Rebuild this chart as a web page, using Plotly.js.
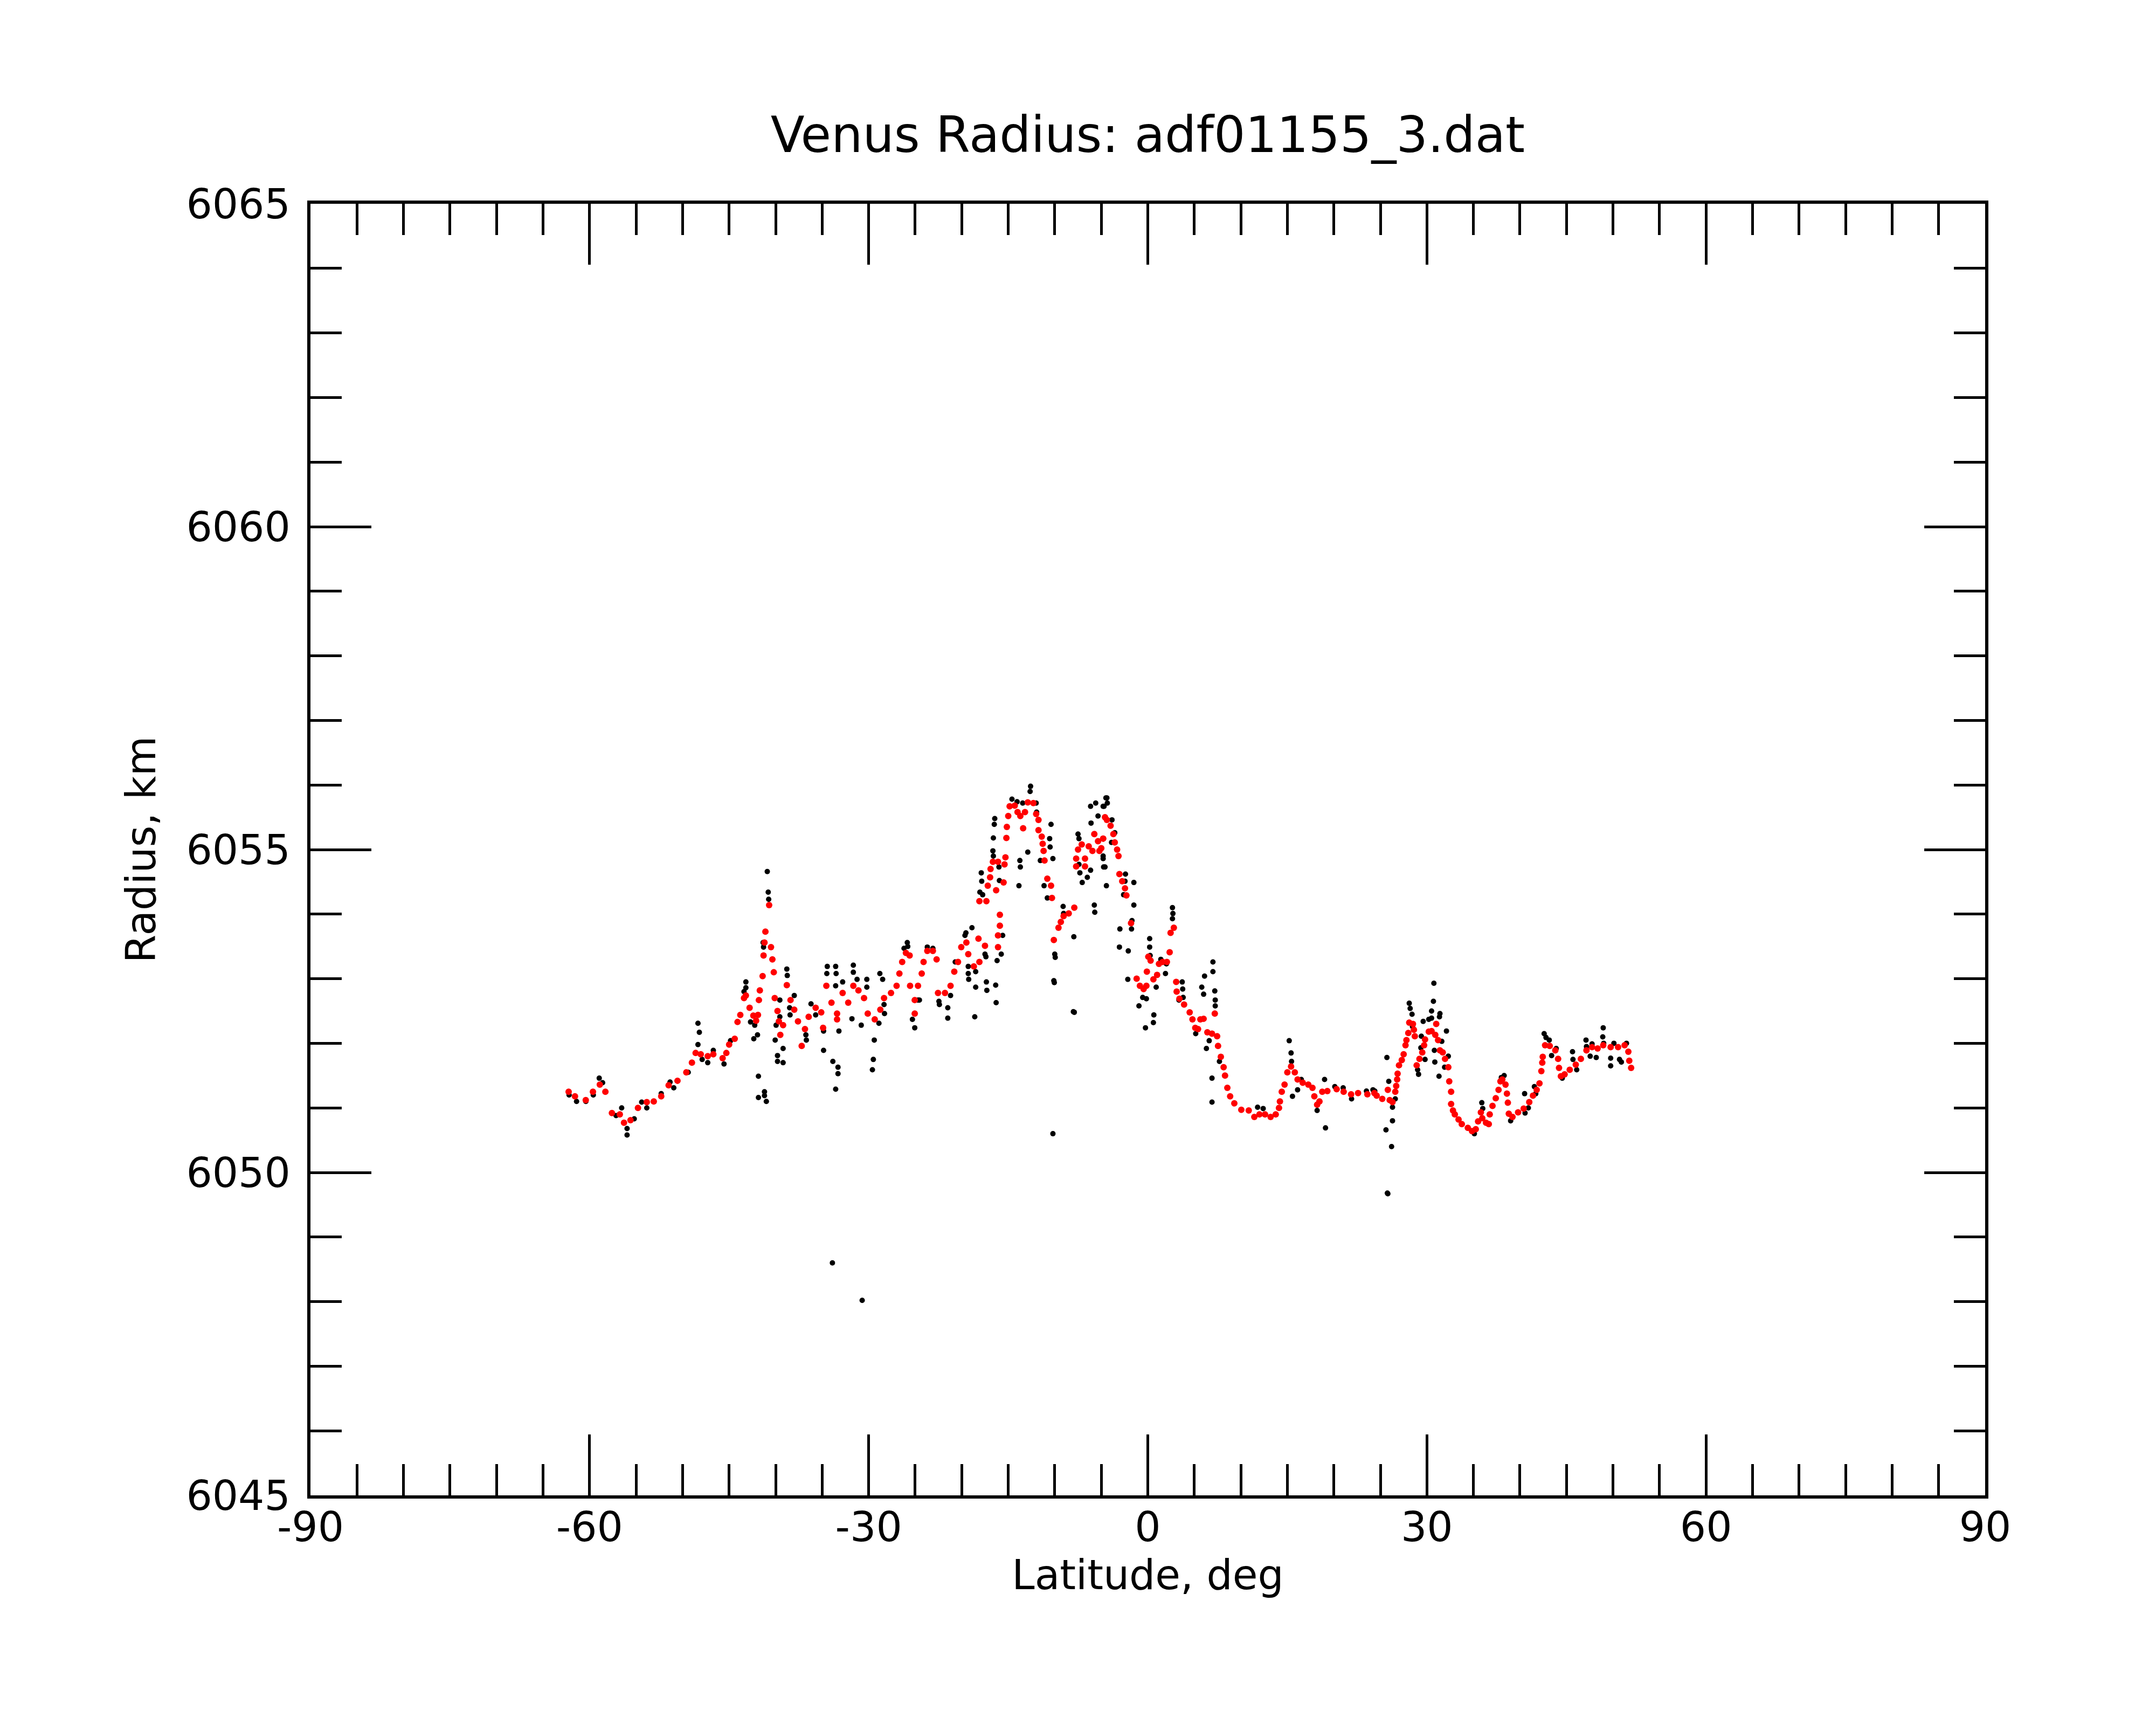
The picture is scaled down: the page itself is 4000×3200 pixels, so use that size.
<!DOCTYPE html>
<html>
<head>
<meta charset="utf-8">
<script src="https://cdn.plot.ly/plotly-3.0.1.min.js"></script>
<style>
  html, body { margin: 0; padding: 0; background: #fff; }
  #chart { width: 4000px; height: 3200px; }
</style>
</head>
<body>
<div id="chart"></div>
<script>
// Smoothed radius profile (red), latitude in deg, radius in km
const smoothLat = [
  -62.25, -61.57, -60.41, -59.64, -58.9, -58.3, -57.6, -56.75, -56.3, -55.6,
  -54.8, -53.85, -53.1, -52.3, -51.5, -50.55, -49.6, -49.0, -48.6, -48.05,
  -47.3, -46.7, -45.7, -45.3, -45.0, -44.4, -44.1, -43.8, -43.4, -43.2,
  -42.8, -42.4, -42.1, -41.9, -41.8, -41.7, -41.4, -41.3, -41.2, -41.1,
  -40.7, -40.5, -40.35, -40.2, -40.1, -39.8, -39.65, -39.5, -39.2, -38.8,
  -38.4, -38.0, -37.6, -37.2, -36.85, -36.45, -35.7, -35.1, -34.9, -34.55,
  -34.0, -33.4, -33.4, -32.8, -32.2, -31.65, -31.1, -30.5, -30.1, -29.35,
  -28.75, -28.35, -27.6, -27.0, -26.7, -26.4, -26.0, -25.6, -25.55, -25.05,
  -25.05, -24.7, -24.3, -24.1, -23.7, -23.1, -22.7, -22.55, -21.8, -21.2,
  -20.8, -20.4, -20.05, -19.5, -19.3, -18.7, -18.2, -18.1, -17.5, -18.1,
  -17.35, -17.2, -16.95, -16.9, -16.65, -16.1, -16.3, -15.9, -15.9, -16.1,
  -16.1, -15.5, -15.4, -15.3, -15.2, -15.15, -15.0, -14.85, -14.3, -14.0,
  -13.7, -13.4, -13.2, -12.9, -12.3, -12.0, -11.75, -11.75, -11.4, -11.3,
  -11.2, -11.1, -10.8, -10.4, -10.3, -10.1, -9.6, -9.35, -9.05, -8.5,
  -7.9, -7.7, -7.7, -7.5, -7.1, -6.75, -6.75, -6.35, -5.75, -5.95,
  -5.35, -5.2, -4.8, -4.6, -4.4, -4.0, -4.8, -5.0, -3.7, -3.55,
  -3.3, -3.15, -3.05, -2.75, -2.45, -2.3, -1.8, -1.2, -0.85, -0.45,
  -0.15, -0.1, 0.05, 0.3, 0.6, 1.0, 1.2, 1.6, 2.05, 2.35,
  2.45, 2.8, 3.05, 3.1, 3.4, 3.9, 4.5, 4.8, 5.1, 5.4,
  5.65, 6.0, 6.4, 6.9, 7.2, 7.45, 7.55, 7.85, 8.15, 8.3,
  8.55, 8.85, 9.3, 10.05, 10.85, 11.45, 12.0, 12.6, 13.2, 13.75,
  14.1, 14.2, 14.4, 14.7, 15.0, 15.4, 15.8, 16.1, 16.65, 17.25,
  17.7, 17.9, 18.2, 18.45, 18.75, 19.3, 20.3, 21.05, 21.85, 22.6,
  23.6, 24.35, 24.6, 25.2, 25.8, 26.0, 26.3, 26.6, 26.7, 26.8,
  26.85, 27.0, 27.3, 27.5, 27.7, 27.8, 28.0, 28.1, 28.5, 28.6,
  28.7, 28.9, 29.2, 29.5, 29.7, 29.8, 30.2, 30.5, 30.9, 31.0,
  31.2, 31.4, 31.7, 31.95, 32.3, 32.4, 32.6, 32.6, 32.8, 33.0,
  33.4, 33.75, 34.4, 34.85, 35.25, 35.5, 35.8, 35.95, 36.35, 36.65,
  36.75, 37.05, 37.4, 37.7, 37.9, 38.1, 38.45, 38.6, 38.7, 38.8,
  39.2, 39.8, 40.4, 41.0, 41.4, 41.8, 42.1, 42.3, 42.4, 42.45,
  42.7, 43.2, 43.8, 44.1, 44.2, 44.4, 44.8, 45.35, 46.0, 46.55,
  47.15, 47.75, 48.35, 48.95, 49.75, 50.55, 51.25, 51.65, 51.75, 51.95
];
const smoothRad = [
  6051.25, 6051.18, 6051.12, 6051.25, 6051.36, 6051.25, 6050.92, 6050.9, 6050.77, 6050.81,
  6051.0, 6051.09, 6051.1, 6051.18, 6051.35, 6051.42, 6051.55, 6051.7, 6051.85, 6051.83,
  6051.8, 6051.83, 6051.77, 6051.85, 6051.98, 6052.07, 6052.33, 6052.44, 6052.7, 6052.74,
  6052.55, 6052.43, 6052.35, 6052.44, 6052.67, 6052.82, 6053.04, 6053.36, 6053.56, 6053.73,
  6054.14, 6053.49, 6053.3, 6053.1, 6052.7, 6052.5, 6052.34, 6052.13, 6052.28, 6052.9,
  6052.67, 6052.52, 6052.34, 6051.96, 6052.22, 6052.41, 6052.55, 6052.48, 6052.24, 6052.89,
  6052.63, 6052.46, 6052.37, 6052.78, 6052.63, 6052.89, 6052.82, 6052.7, 6052.46, 6052.37,
  6052.52, 6052.7, 6052.78, 6052.89, 6053.08, 6053.26, 6053.4, 6053.36, 6052.89, 6052.67,
  6052.46, 6052.89, 6053.08, 6053.26, 6053.43, 6053.43, 6053.3, 6052.78, 6052.78, 6052.89,
  6053.11, 6053.26, 6053.49, 6053.56, 6053.38, 6053.19, 6053.62, 6053.26, 6053.51, 6054.2,
  6054.2, 6054.44, 6054.57, 6054.7, 6054.81, 6054.81, 6054.37, 6053.99, 6053.82, 6053.67,
  6053.49, 6054.49, 6054.77, 6054.88, 6055.18, 6055.35, 6055.52, 6055.67, 6055.68, 6055.58,
  6055.52, 6055.33, 6055.58, 6055.73, 6055.72, 6055.55, 6055.46, 6055.3, 6055.2, 6055.09,
  6054.98, 6054.83, 6054.55, 6054.44, 6054.25, 6053.6, 6053.79, 6053.88, 6053.97, 6054.01,
  6054.1, 6054.74, 6054.86, 6055.0, 6055.08, 6054.86, 6054.74, 6055.05, 6055.24, 6054.98,
  6055.13, 6054.98, 6055.17, 6055.5, 6055.46, 6055.37, 6055.17, 6055.02, 6055.24, 6055.11,
  6055.0, 6054.9, 6054.62, 6054.51, 6054.4, 6054.29, 6053.86, 6053.0, 6052.89, 6052.84,
  6052.89, 6053.11, 6053.34, 6053.28, 6052.99, 6053.06, 6053.23, 6053.26, 6053.26, 6053.41,
  6053.71, 6053.79, 6052.95, 6052.8, 6052.69, 6052.6, 6052.48, 6052.37, 6052.24, 6052.22,
  6052.37, 6052.38, 6052.17, 6052.15, 6052.46, 6052.11, 6051.96, 6051.79, 6051.63, 6051.5,
  6051.31, 6051.18, 6051.07, 6050.97, 6050.96, 6050.86, 6050.9, 6050.9, 6050.86, 6050.9,
  6051.0, 6051.1, 6051.25, 6051.36, 6051.55, 6051.64, 6051.55, 6051.44, 6051.39, 6051.36,
  6051.31, 6051.18, 6051.05, 6051.1, 6051.25, 6051.26, 6051.29, 6051.25, 6051.21, 6051.23,
  6051.21, 6051.23, 6051.19, 6051.14, 6051.28, 6051.12, 6051.09, 6051.25, 6051.34, 6051.44,
  6051.53, 6051.66, 6051.74, 6051.83, 6051.97, 6052.05, 6052.16, 6052.32, 6052.3, 6052.21,
  6052.11, 6051.66, 6051.76, 6051.86, 6051.97, 6052.06, 6052.18, 6052.19, 6052.13, 6052.3,
  6052.05, 6051.89, 6051.86, 6051.76, 6051.63, 6051.41, 6051.25, 6051.06, 6050.96, 6050.9,
  6050.82, 6050.75, 6050.69, 6050.64, 6050.67, 6050.79, 6050.93, 6050.84, 6050.77, 6050.75,
  6050.9, 6051.03, 6051.15, 6051.28, 6051.41, 6051.44, 6051.36, 6051.22, 6051.08, 6050.91,
  6050.86, 6050.93, 6050.99, 6051.09, 6051.19, 6051.28, 6051.38, 6051.57, 6051.7, 6051.79,
  6051.97, 6051.96, 6051.89, 6051.76, 6051.62, 6051.49, 6051.52, 6051.59, 6051.67, 6051.76,
  6051.89, 6051.94, 6051.92, 6051.97, 6051.94, 6051.94, 6051.97, 6051.87, 6051.73, 6051.62
];

// Raw radius samples (black), latitude in deg, radius in km
const rawLat = [
  -62.2, -61.4, -60.4, -59.6, -58.96, -58.6, -57.15, -56.55, -55.97, -55.97,
  -55.2, -54.4, -53.85, -52.3, -51.35, -50.95, -49.4, -48.35, -48.2, -48.35,
  -47.9, -47.3, -46.7, -45.55, -44.85, -43.2, -43.2, -43.4, -42.7, -42.25,
  -42.35, -41.95, -41.85, -41.85, -41.2, -41.2, -41.0, -40.9, -40.8, -40.75,
  -41.3, -41.35, -39.55, -39.55, -39.95, -40.05, -39.2, -39.8, -39.8, -39.2,
  -38.8, -38.75, -38.0, -38.5, -38.45, -36.75, -36.7, -36.2, -35.7, -34.85,
  -34.85, -34.45, -34.5, -33.55, -33.5, -33.85, -33.3, -33.3, -33.55, -33.2,
  -33.55, -32.8, -31.65, -31.65, -31.8, -31.25, -30.8, -30.2, -30.2, -30.5,
  -29.4, -29.5, -29.6, -28.8, -28.5, -28.35, -28.3, -28.9, -25.85, -25.8,
  -26.2, -25.3, -25.05, -24.7, -24.55, -23.7, -23.1, -22.45, -22.4, -21.5,
  -21.5, -21.2, -20.7, -19.65, -19.55, -18.9, -19.3, -19.25, -19.3, -18.6,
  -18.5, -18.5, -17.5, -17.4, -17.35, -17.3, -16.35, -16.3, -16.2, -15.75,
  -15.6, -17.9, -17.85, -18.05, -17.75, -16.65, -16.6, -16.6, -16.5, -16.45,
  -16.0, -15.95, -14.6, -14.05, -13.45, -12.6, -12.65, -12.0, -11.95, -12.9,
  -13.75, -13.7, -13.85, -10.4, -10.55, -10.5, -10.2, -11.55, -11.15, -10.8,
  -10.0, -9.95, -10.1, -10.05, -7.95, -7.9, -9.1, -9.05, -7.5, -7.4,
  -7.4, -7.3, -7.05, -6.5, -6.15, -5.75, -5.7, -6.15, -5.6, -6.1,
  -5.35, -4.8, -4.5, -4.8, -4.6, -4.45, -4.4, -4.35, -4.7, -3.85,
  -3.55, -3.9, -4.8, -4.75, -2.4, -2.45, -2.6, -1.5, -1.5, -1.7,
  -1.75, -3.0, -3.05, -2.1, -2.15, -0.95, -0.55, -0.15, -0.25, 0.6,
  0.65, 0.2, 0.2, 0.25, 0.9, 1.4, 1.9, 2.0, 2.65, 2.65,
  2.7, 3.35, 3.7, 3.75, 3.8, 5.15, 5.8, 6.1, 6.0, 7.0,
  7.0, 7.2, 7.25, 7.25, 6.6, 6.3, 7.7, 6.9, 6.9, 11.8,
  12.4, 15.2, 15.4, 15.45, 15.55, 16.1, 16.5, 19.0, 19.1, 18.2,
  20.1, 21.0, 21.9, 23.5, 24.4, 24.2, 25.7, 25.9, 26.3, 26.3,
  25.6, 26.2, 25.8, 26.6, 28.1, 28.2, 28.4, 28.45, 29.0, 29.1,
  29.6, 29.4, 29.35, 29.8, 30.2, 30.5, 30.5, 30.7, 30.75, 31.4,
  31.35, 31.6, 30.8, 30.85, 31.3, 31.9, 32.1, 32.3, 35.1, 35.9,
  36.0, 38.3, 38.0, 39.0, 40.5, 40.55, 40.9, 41.55, 41.7, 42.6,
  42.8, 43.15, 43.9, 43.4, 44.55, 45.65, 45.7, 46.1, 47.1, 47.15,
  47.55, 47.75, 48.2, 48.95, 48.9, 49.0, 49.75, 49.75, 50.1, 50.7,
  50.9, 51.45, -33.9, -30.7, -10.2, -8.0, 25.75
];
const rawRad = [
  6051.2, 6051.1, 6051.1, 6051.2, 6051.46, 6051.39, 6050.88, 6051.0, 6050.68, 6050.58,
  6050.83, 6051.09, 6051.0, 6051.22, 6051.4, 6051.31, 6051.55, 6052.31, 6052.17, 6051.98,
  6051.75, 6051.7, 6051.89, 6051.68, 6052.04, 6052.95, 6052.86, 6052.8, 6052.33, 6052.28,
  6052.07, 6052.13, 6051.49, 6051.16, 6051.25, 6051.19, 6051.1, 6054.66, 6054.34, 6054.23,
  6053.49, 6053.56, 6052.67, 6052.41, 6052.28, 6052.05, 6051.92, 6051.81, 6051.72, 6051.7,
  6053.15, 6053.05, 6052.74, 6052.55, 6052.44, 6052.13, 6052.05, 6052.61, 6052.44, 6052.19,
  6051.89, 6053.19, 6053.08, 6053.19, 6053.08, 6051.72, 6051.63, 6051.53, 6051.29, 6052.19,
  6052.89, 6052.95, 6053.21, 6053.1, 6052.38, 6052.99, 6052.28, 6052.99, 6052.87, 6052.7,
  6052.05, 6051.75, 6051.59, 6053.08, 6052.99, 6052.6, 6052.46, 6052.31, 6053.56, 6053.5,
  6053.47, 6052.37, 6052.24, 6052.67, 6052.67, 6053.49, 6053.47, 6052.65, 6052.6, 6052.55,
  6052.39, 6052.74, 6053.26, 6053.67, 6053.71, 6053.79, 6053.08, 6052.99, 6053.19, 6052.41,
  6052.87, 6053.11, 6053.38, 6053.34, 6052.95, 6052.82, 6052.9, 6052.63, 6053.28, 6053.38,
  6053.67, 6054.64, 6054.51, 6054.34, 6054.3, 6054.98, 6054.9, 6055.18, 6055.39, 6055.48,
  6054.73, 6054.52, 6055.78, 6055.74, 6055.72, 6055.98, 6055.9, 6055.72, 6055.58, 6054.96,
  6054.83, 6054.73, 6054.44, 6055.39, 6055.17, 6055.04, 6054.86, 6054.83, 6054.44, 6054.25,
  6053.38, 6053.33, 6052.97, 6052.94, 6053.65, 6052.48, 6054.12, 6054.01, 6055.24, 6055.17,
  6054.77, 6054.64, 6054.49, 6054.57, 6054.68, 6054.14, 6054.03, 6055.67, 6055.72, 6055.41,
  6055.52, 6055.67, 6055.8, 6054.9, 6054.73, 6054.44, 6055.8, 6055.72, 6055.67, 6055.46,
  6055.26, 6055.11, 6054.86, 6054.73, 6054.62, 6054.51, 6054.3, 6054.49, 6054.14, 6053.9,
  6053.77, 6053.77, 6053.49, 6053.43, 6052.99, 6052.58, 6052.71, 6052.69, 6052.24, 6052.32,
  6052.44, 6053.62, 6053.49, 6053.36, 6052.87, 6053.3, 6053.08, 6053.23, 6054.1, 6053.93,
  6054.01, 6052.67, 6052.95, 6052.84, 6052.71, 6052.15, 6052.87, 6053.04, 6052.76, 6053.26,
  6053.11, 6052.81, 6052.67, 6052.58, 6052.04, 6051.92, 6051.72, 6051.46, 6051.09, 6051.01,
  6050.99, 6052.04, 6051.85, 6051.72, 6051.18, 6051.28, 6051.44, 6051.44, 6050.69, 6050.96,
  6051.33, 6051.31, 6051.14, 6051.26, 6051.26, 6051.28, 6051.78, 6051.41, 6051.01, 6050.8,
  6050.66, 6050.4, 6049.67, 6051.14, 6052.62, 6052.54, 6052.45, 6052.26, 6051.59, 6051.52,
  6052.34, 6052.11, 6051.93, 6051.75, 6052.37, 6052.39, 6052.5, 6052.65, 6052.93, 6052.46,
  6052.41, 6052.03, 6051.89, 6051.71, 6051.49, 6051.63, 6052.19, 6051.8, 6050.6, 6051.08,
  6050.99, 6051.5, 6051.47, 6050.8, 6051.22, 6050.92, 6051.0, 6051.33, 6051.22, 6052.15,
  6052.09, 6052.05, 6051.92, 6051.81, 6051.46, 6051.87, 6051.75, 6051.59, 6052.05, 6051.95,
  6051.8, 6051.99, 6051.78, 6052.24, 6052.1, 6052.0, 6051.77, 6051.65, 6052.0, 6051.75,
  6051.71, 6052.0, 6048.6, 6048.02, 6050.6, 6052.49, 6049.68
];

const xTicks = [-90, -60, -30, 0, 30, 60, 90];
const yTicks = [6045, 6050, 6055, 6060, 6065];

const FONT = 'DejaVu Sans, Verdana, sans-serif';

const traces = [
  {
    x: rawLat, y: rawRad, type: 'scatter', mode: 'markers',
    marker: { color: '#000000', size: 10 },
    hoverinfo: 'skip', showlegend: false
  },
  {
    x: smoothLat, y: smoothRad, type: 'scatter', mode: 'markers',
    marker: { color: '#ff0000', size: 12 },
    hoverinfo: 'skip', showlegend: false
  }
];

function axisStyle(vals, minorStep) {
  return {
    tickmode: 'array', tickvals: vals, ticktext: vals.map(String),
    ticks: 'inside', ticklen: 113, tickwidth: 5, tickcolor: '#000',
    minor: { dtick: minorStep, ticks: 'inside', ticklen: 58, tickwidth: 5, tickcolor: '#000', showgrid: false },
    showline: true, linewidth: 6, linecolor: '#000', mirror: 'ticks',
    showgrid: false, zeroline: false,
    tickfont: { family: FONT, size: 76, color: '#000' }
  };
}

const layout = {
  width: 4000, height: 3200,
  paper_bgcolor: '#fff', plot_bgcolor: '#fff',
  margin: { l: 576, r: 317, t: 378, b: 426 },
  font: { family: FONT, color: '#000' },
  title: {
    text: 'Venus Radius: adf01155_3.dat',
    font: { family: FONT, size: 92, color: '#000' },
    xref: 'paper', x: 0.5, y: 1 - 250 / 3200, yanchor: 'middle'
  },
  xaxis: Object.assign(axisStyle(xTicks, 5), {
    range: [-90, 90],
    ticklabelstandoff: -12,
    title: { text: 'Latitude, deg', font: { family: FONT, size: 76, color: '#000' }, standoff: 2 }
  }),
  yaxis: Object.assign(axisStyle(yTicks, 1), {
    range: [6045, 6065],
    ticklabelstandoff: 16,
    title: { text: 'Radius, km', font: { family: FONT, size: 76, color: '#000' }, standoff: 34 }
  })
};

Plotly.newPlot('chart', traces, layout, { staticPlot: true, displayModeBar: false });
</script>
</body>
</html>
